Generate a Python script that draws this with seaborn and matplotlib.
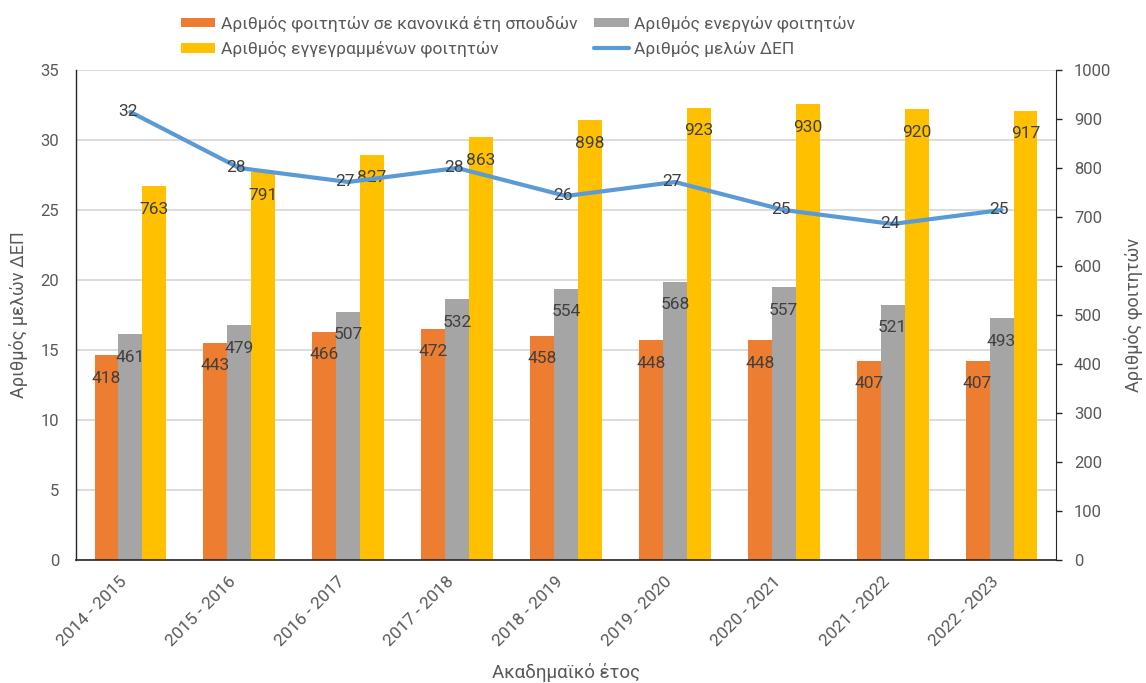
import numpy as np
import pandas as pd
import matplotlib
matplotlib.use("Agg")
import matplotlib.pyplot as plt
from matplotlib.transforms import ScaledTranslation
import seaborn as sns

# ---------------- data ----------------
years = ["2014 - 2015", "2015 - 2016", "2016 - 2017", "2017 - 2018", "2018 - 2019",
         "2019 - 2020", "2020 - 2021", "2021 - 2022", "2022 - 2023"]
regular_students = [418, 443, 466, 472, 458, 448, 448, 407, 407]
active_students = [461, 479, 507, 532, 554, 568, 557, 521, 493]
enrolled_students = [763, 791, 827, 863, 898, 923, 930, 920, 917]
dep_members = [32, 28, 27, 28, 26, 27, 25, 24, 25]

name_regular = "Αριθμός φοιτητών σε κανονικά έτη σπουδών"
name_active = "Αριθμός ενεργών φοιτητών"
name_enrolled = "Αριθμός εγγεγραμμένων φοιτητών"
name_dep = "Αριθμός μελών ΔΕΠ"

left_ticks = list(range(0, 36, 5))
right_ticks = list(range(0, 1001, 100))

# ---------------- style ----------------
sns.set_style("white")
plt.rcParams["font.family"] = ["Roboto", "DejaVu Sans"]

C_ORANGE = "#ED7D31"
C_GRAY = "#A5A5A5"
C_YELLOW = "#FFC000"
C_BLUE = "#5B9BD5"
C_TEXT = "#595959"
C_LABEL = "#404040"

df = pd.DataFrame({
    "year": years * 3,
    "value": regular_students + active_students + enrolled_students,
    "series": [name_regular] * len(years) + [name_active] * len(years) + [name_enrolled] * len(years),
})

fig = plt.figure(figsize=(11.46, 6.83), dpi=100)
ax = fig.add_axes([76 / 1146, 1 - 560 / 683, (1056 - 76) / 1146, 490 / 683])
ax2 = ax.twinx()   # bars, right axis (students)
ax3 = ax.twinx()   # line, left-axis scale (ΔΕΠ)

sns.barplot(data=df, x="year", y="value", hue="series",
            hue_order=[name_regular, name_active, name_enrolled],
            palette=[C_ORANGE, C_GRAY, C_YELLOW], saturation=1,
            width=0.66, linewidth=0, errorbar=None, legend=False, ax=ax2)

sns.lineplot(x=np.arange(len(years)), y=dep_members, ax=ax3, color=C_BLUE,
             lw=3.0, solid_capstyle="round", solid_joinstyle="round")
if ax3.get_legend() is not None:
    ax3.get_legend().remove()

# limits
n = len(years)
ax.set_xlim(-0.5, n - 0.5)
ax.set_ylim(0, 35)
ax3.set_ylim(0, 35)
ax2.set_ylim(0, 1000)

# bar labels (inside end)
for cont in ax2.containers:
    ax2.bar_label(cont, padding=-22, fontsize=12.5, color=C_LABEL)

# line labels (centered on points)
for i, v in enumerate(dep_members):
    ax3.annotate(str(v), (i, v), xytext=(-2, 0), textcoords="offset points",
                 ha="center", va="center", fontsize=12.5, color=C_LABEL)

# left axis
ax.set_yticks(left_ticks)
ax.tick_params(axis="y", length=0, pad=12, labelsize=12, labelcolor=C_TEXT)
ax.yaxis.grid(True, color="#D9D9D9", lw=1.3)
ax.xaxis.grid(False)
ax.set_axisbelow(True)
for s in ["top", "right", "bottom"]:
    ax.spines[s].set_visible(False)
ax.spines["left"].set_color("#262626")
ax.spines["left"].set_linewidth(1.0)
ax.set_ylabel(name_dep, fontsize=13, color=C_TEXT, labelpad=9)

# right axis
ax2.set_yticks(right_ticks)
ax2.tick_params(axis="y", length=4, width=1, color="#262626", pad=9,
                labelsize=12, labelcolor=C_TEXT)
ax2.spines["top"].set_visible(False)
ax2.spines["left"].set_visible(False)
ax2.spines["right"].set_color("#262626")
ax2.spines["bottom"].set_color("#262626")
ax2.spines["bottom"].set_linewidth(1.2)
ax2.set_ylabel("Αριθμός φοιτητών", fontsize=13, color=C_TEXT, labelpad=9, rotation=90)
ax2.grid(False)

ax3.axis("off")

# x axis
ax.set_xticks(np.arange(n))
ax.set_xticklabels(years, rotation=45, ha="right", va="center", rotation_mode="anchor")
ax.set_xticks(np.arange(-0.5, n, 1), minor=True)
ax.tick_params(axis="x", which="major", length=0, pad=14, labelsize=12.5, labelcolor=C_TEXT)
ax.tick_params(axis="x", which="minor", length=5, width=1, color="#262626")
shift = ScaledTranslation(-4 / 72, 0, fig.dpi_scale_trans)
for lbl in ax.get_xticklabels():
    lbl.set_transform(lbl.get_transform() + shift)
ax.set_xlabel("Ακαδημαϊκό έτος", fontsize=13.5, color=C_TEXT, labelpad=10)

# legend
bars = ax2.containers
line = ax3.get_lines()[0]
fig.legend(handles=[bars[0], bars[2], bars[1], line],
           labels=[name_regular, name_enrolled, name_active, name_dep],
           ncol=2, loc="upper left", bbox_to_anchor=(165 / 1146, 1),
           frameon=False, fontsize=12.5, labelcolor=C_TEXT,
           handlelength=2.0, handleheight=0.5, handletextpad=0.3,
           columnspacing=1.0, labelspacing=0.5)

fig.savefig("out.png", dpi=100)
